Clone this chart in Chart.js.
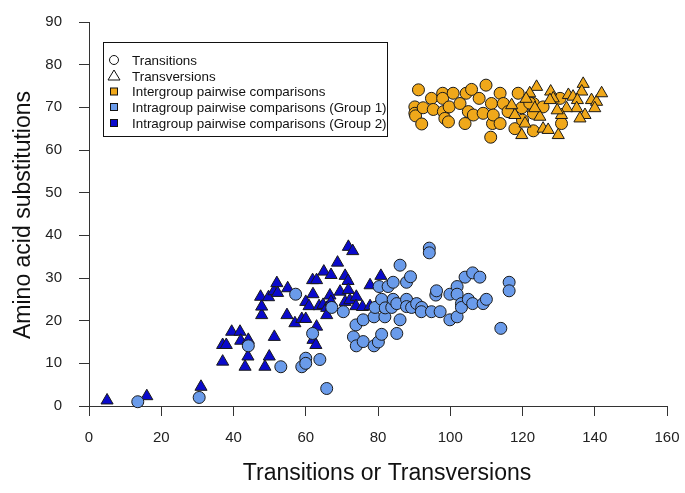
<!DOCTYPE html>
<html>
<head>
<meta charset="utf-8">
<title>Amino acid substitutions vs transitions / transversions</title>
<script src="https://cdn.jsdelivr.net/npm/chart.js@4.4.1/dist/chart.umd.min.js"></script>
<style>
  html, body { margin: 0; padding: 0; background: #fff; }
  #wrap { width: 685px; height: 493px; }
</style>
</head>
<body>
<div id="wrap"><canvas id="chart" width="685" height="493"></canvas></div>
<script>
/* ── Data ─────────────────────────────────────────────────── */

// Intergroup pairwise comparisons — transitions (circles)
const interTsX = [91.2, 90.2, 90.2, 90.4, 92.1, 92.5, 94.8, 95.3, 97.9, 97.9, 98.1, 98.5, 99.5, 99.7,
                  100.8, 102.7, 104.1, 104.4, 105.9, 105.0, 106.4, 108.0, 109.9, 109.1, 111.4, 111.2,
                  111.7, 111.9, 113.8, 113.8, 114.7, 117.9, 118.8, 119.8, 120.0, 123.0, 123.0, 123.0,
                  125.7, 130.4, 130.8, 116.0, 122.0];
const interTsY = [74.1, 70.1, 68.6, 68.0, 66.1, 69.9, 72.1, 69.5, 73.3, 72.1, 69.0, 67.4, 66.6, 70.1,
                  73.3, 70.9, 66.2, 73.3, 74.2, 69.0, 68.2, 72.1, 75.2, 68.6, 70.9, 63.0,
                  66.2, 68.2, 73.3, 66.2, 70.9, 65.0, 73.3, 69.9, 67.0, 70.9, 64.5, 68.6,
                  70.1, 72.1, 66.2, 69.0, 71.0];

// Intergroup pairwise comparisons — transversions (triangles)
const interTvX = [123.9, 122.0, 117.9, 120.7, 119.8, 125.7, 127.8, 128.5, 132.7, 134.0, 136.8, 136.4,
                  135.2, 135.0, 139.1, 140.5, 141.9, 140.0, 137.3, 135.9, 132.2, 130.8, 129.9, 127.1,
                  127.6, 124.8, 129.6, 123.4, 121.0, 117.0];
const interTvY = [74.8, 73.3, 68.2, 66.2, 63.5, 65.0, 73.7, 72.1, 72.9, 72.5, 75.5, 73.7,
                  71.7, 69.8, 71.7, 71.3, 73.3, 69.8, 68.2, 67.4, 69.8, 68.2, 63.5, 64.7,
                  71.7, 67.8, 69.3, 69.8, 72.0, 70.5];

// Intragroup (Group 1) — transitions (circles)
const g1TsX = [13.5, 30.5, 44.1, 53.1, 57.2, 58.9, 60.0, 60.0, 61.9, 63.9, 65.8, 67.2, 70.4, 73.2,
               73.9, 74.0, 75.9, 75.9, 78.9, 78.9, 79.2, 80.1, 80.3, 81.0, 81.0, 81.9, 82.0, 82.8,
               83.8, 84.2, 84.2, 85.2, 85.2, 86.1, 86.1, 87.9, 87.9, 87.9, 89.0, 89.3, 90.7, 92.1,
               92.0, 94.2, 94.2, 94.8, 96.0, 96.2, 97.2, 99.9, 99.9, 101.9, 101.9, 101.9, 103.1,
               103.1, 104.1, 105.0, 106.2, 106.2, 108.2, 109.1, 110.0, 114.0, 116.3, 116.3];
const g1TsY = [1.0, 2.0, 14.1, 9.2, 26.2, 9.2, 11.2, 10.0, 17.0, 10.9, 4.1, 23.1, 22.1, 16.2,
               19.0, 14.1, 15.1, 20.2, 14.1, 20.9, 23.1, 15.0, 28.0, 16.8, 25.0, 20.9, 23.0, 28.0,
               23.1, 29.0, 25.0, 24.0, 17.0, 20.2, 33.0, 29.0, 25.0, 23.3, 30.3, 23.1, 24.0, 23.1,
               22.1, 37.0, 35.9, 22.1, 26.0, 27.0, 22.1, 26.2, 20.2, 28.0, 26.2, 20.9, 24.0,
               23.1, 30.2, 25.0, 31.2, 24.0, 30.2, 24.0, 25.0, 18.2, 29.0, 27.0];

// Intragroup (Group 2) — transversions (triangles)
const g2TvX = [5.0, 16.0, 31.0, 37.0, 37.0, 38.0, 39.5, 41.8, 42.0, 43.2, 44.1, 44.0, 47.8, 47.8,
               47.5, 48.7, 49.9, 49.7, 51.3, 51.2, 52.2, 52.0, 54.8, 55.0, 57.0, 58.9, 60.0, 60.0,
               60.9, 62.0, 61.9, 63.0, 62.0, 62.8, 63.0, 63.7, 64.8, 65.0, 65.8, 65.8, 66.7, 67.0,
               67.0, 68.8, 69.5, 70.9, 70.9, 71.7, 71.8, 71.8, 72.2, 73.0, 74.0, 73.9, 75.7, 77.8,
               77.8, 79.6, 80.8];
const g2TvY = [1.3, 2.3, 4.5, 10.4, 14.3, 14.3, 17.4, 17.4, 15.3, 9.2, 15.5, 11.6, 21.3, 23.3,
               25.6, 9.2, 11.6, 25.5, 16.2, 26.9, 26.5, 28.8, 21.3, 27.6, 19.4, 20.4, 20.4, 24.4,
               23.4, 26.2, 29.5, 29.5, 15.5, 14.3, 18.6, 23.4, 23.7, 31.5, 23.0, 21.3, 25.9, 30.7,
               24.4, 33.6, 26.8, 30.5, 24.4, 29.3, 27.2, 37.3, 24.8, 36.3, 25.6, 23.4, 23.2, 23.4,
               28.3, 23.4, 30.5];

const X_TICKS = [0, 20, 40, 60, 80, 100, 120, 140, 160];
const Y_TICKS = [0, 10, 20, 30, 40, 50, 60, 70, 80, 90];

const LEGEND_LABELS = [
  'Transitions',
  'Transversions',
  'Intergroup pairwise comparisons',
  'Intragroup pairwise comparisons (Group 1)',
  'Intragroup pairwise comparisons (Group 2)',
];

const X_TITLE = 'Transitions or Transversions';
const Y_TITLE = 'Amino acid substitutions';

/* ── Style ─────────────────────────────────────────────────── */
const ORANGE = '#F0A81A';
const LIGHT  = '#6A9BEA';
const DARK   = '#0A0ACC';
const EDGE   = '#1a1a1a';
const AXIS   = '#333';
const FONT   = '"Liberation Sans", Arial, Helvetica, sans-serif';

const toPoints = (xs, ys) => xs.map((x, i) => ({ x, y: ys[i] }));

function series(label, xs, ys, color, shape) {
  return {
    label,
    data: toPoints(xs, ys),
    pointStyle: shape,
    pointRadius: shape === 'triangle' ? 7 : 6,
    pointHoverRadius: shape === 'triangle' ? 7 : 6,
    backgroundColor: color,
    borderColor: EDGE,
    borderWidth: 1,
    clip: false,
  };
}

// Keep the plot box exactly where the layout padding puts it
function noLabelPadding(s) {
  s.paddingTop = 0; s.paddingBottom = 0;
  s.paddingLeft = 0; s.paddingRight = 0;
}

/* ── Plugins: R-style boxed legend + axis titles ───────────── */
const boxLegend = {
  id: 'boxLegend',
  afterDraw(chart) {
    const ctx = chart.ctx;
    const left = 103, top = 42, w = 284, h = 94;
    const markX = 114, textX = 132;
    const rows = [60, 76, 91.5, 107, 123];
    const fills = [ORANGE, LIGHT, DARK];

    ctx.save();
    ctx.strokeStyle = '#111';
    ctx.lineWidth = 1;
    ctx.strokeRect(left + 0.5, top + 0.5, w, h);

    // open circle
    ctx.beginPath();
    ctx.arc(markX, rows[0], 4.5, 0, Math.PI * 2);
    ctx.stroke();

    // open triangle
    ctx.beginPath();
    ctx.moveTo(markX, rows[1] - 6);
    ctx.lineTo(markX + 6, rows[1] + 4);
    ctx.lineTo(markX - 6, rows[1] + 4);
    ctx.closePath();
    ctx.stroke();

    // filled squares
    fills.forEach((c, i) => {
      const y = rows[i + 2];
      ctx.fillStyle = c;
      ctx.fillRect(markX - 3.5, y - 3.5, 7, 7);
      ctx.strokeRect(markX - 3.5, y - 3.5, 7, 7);
    });

    ctx.fillStyle = '#111';
    ctx.font = `13.4px ${FONT}`;
    ctx.textAlign = 'left';
    ctx.textBaseline = 'middle';
    LEGEND_LABELS.forEach((t, i) => ctx.fillText(t, textX, rows[i] + 1));
    ctx.restore();
  },
};

const axisTitles = {
  id: 'axisTitles',
  afterDraw(chart) {
    const ctx = chart.ctx;
    ctx.save();
    ctx.fillStyle = '#111';
    ctx.font = `23px ${FONT}`;
    ctx.textAlign = 'center';
    ctx.textBaseline = 'middle';
    ctx.fillText(X_TITLE, 387, 474);

    ctx.translate(24, 215);
    ctx.rotate(-Math.PI / 2);
    ctx.fillText(Y_TITLE, 0, 0);
    ctx.restore();
  },
};

/* ── Chart ─────────────────────────────────────────────────── */
const ctx = document.getElementById('chart').getContext('2d');

new Chart(ctx, {
  type: 'scatter',
  data: {
    datasets: [
      series('Intragroup (Group 1) — transitions', g1TsX, g1TsY, LIGHT, 'circle'),
      series('Intragroup (Group 2) — transversions', g2TvX, g2TvY, DARK, 'triangle'),
      series('Intergroup — transversions', interTvX, interTvY, ORANGE, 'triangle'),
      series('Intergroup — transitions', interTsX, interTsY, ORANGE, 'circle'),
    ],
  },
  options: {
    responsive: false,
    animation: false,
    events: [],
    layout: { padding: { top: 22, right: 18, left: 0, bottom: 0 } },
    plugins: {
      legend:  { display: false },
      tooltip: { enabled: false },
    },
    scales: {
      x: {
        type: 'linear',
        min: 0,
        max: 160,
        afterBuildTicks: s => { s.ticks = X_TICKS.map(v => ({ value: v })); },
        afterFit: s => { s.height = 87; noLabelPadding(s); },
        border: { display: true, color: AXIS, width: 1 },
        grid: { drawOnChartArea: false, drawTicks: true, tickLength: 10, color: AXIS, lineWidth: 1 },
        ticks: { color: '#222', padding: 13, maxRotation: 0, font: { family: FONT, size: 15 } },
      },
      y: {
        type: 'linear',
        min: 0,
        max: 90,
        afterBuildTicks: s => { s.ticks = Y_TICKS.map(v => ({ value: v })); },
        afterFit: s => { s.width = 89; noLabelPadding(s); },
        border: { display: true, color: AXIS, width: 1 },
        grid: { drawOnChartArea: false, drawTicks: true, tickLength: 10, color: AXIS, lineWidth: 1 },
        ticks: { color: '#222', padding: 17, font: { family: FONT, size: 15 } },
      },
    },
  },
  plugins: [axisTitles, boxLegend],
});
</script>
</body>
</html>
